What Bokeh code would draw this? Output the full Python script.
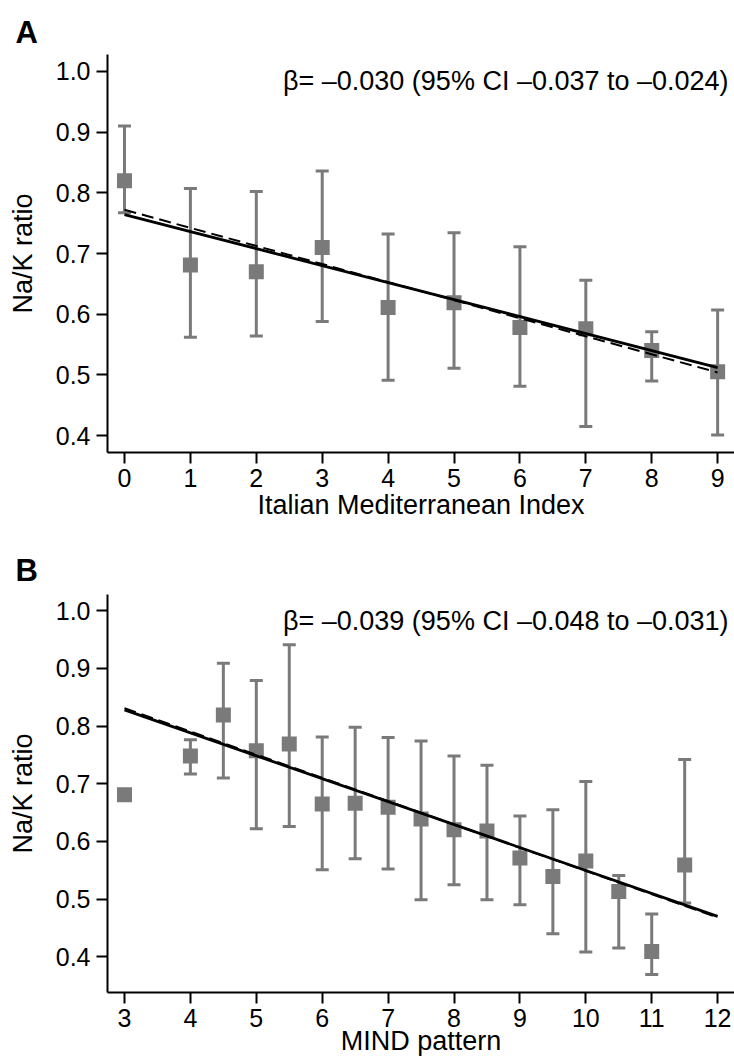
import math
from bokeh.plotting import figure
from bokeh.layouts import column
from bokeh.models import Range1d, FixedTicker, PrintfTickFormatter, Label, ColumnDataSource
from bokeh.embed import file_html
from bokeh.resources import INLINE

nan = math.nan

# ---------------- Panel A data ----------------
a_x = [0, 1, 2, 3, 4, 5, 6, 7, 8, 9]
a_mean = [0.820, 0.681, 0.670, 0.710, 0.611, 0.619, 0.578, 0.576, 0.540, 0.505]
a_lower = [0.767, 0.562, 0.564, 0.588, 0.491, 0.511, 0.481, 0.415, 0.490, 0.401]
a_upper = [0.910, 0.807, 0.802, 0.836, 0.732, 0.734, 0.711, 0.656, 0.571, 0.607]
a_fit_x = [0, 9]
a_fit_solid = [0.764, 0.512]
a_fit_dashed = [0.772, 0.504]
a_xticks = [0, 1, 2, 3, 4, 5, 6, 7, 8, 9]
a_note = "β= –0.030 (95% CI –0.037 to –0.024)"
a_xlabel = "Italian Mediterranean Index"

# ---------------- Panel B data ----------------
b_x = [3, 4, 4.5, 5, 5.5, 6, 6.5, 7, 7.5, 8, 8.5, 9, 9.5, 10, 10.5, 11, 11.5]
b_mean = [0.681, 0.748, 0.819, 0.757, 0.769, 0.665, 0.666, 0.659, 0.639, 0.620,
          0.618, 0.571, 0.539, 0.566, 0.513, 0.409, 0.559]
b_lower = [nan, 0.717, 0.710, 0.622, 0.626, 0.551, 0.570, 0.552, 0.499, 0.525,
           0.499, 0.490, 0.440, 0.408, 0.415, 0.369, 0.493]
b_upper = [nan, 0.776, 0.909, 0.879, 0.941, 0.781, 0.798, 0.780, 0.774, 0.748,
           0.732, 0.644, 0.655, 0.704, 0.541, 0.474, 0.742]
b_fit_x = [3, 12]
b_fit_solid = [0.828, 0.470]
b_fit_dashed = [0.831, 0.468]
b_xticks = [3, 4, 5, 6, 7, 8, 9, 10, 11, 12]
b_note = "β= –0.039 (95% CI –0.048 to –0.031)"
b_xlabel = "MIND pattern"

y_ticks = [0.4, 0.5, 0.6, 0.7, 0.8, 0.9, 1.0]
y_label = "Na/K ratio"

FONT = "Liberation Sans"
GRAY = "#7a7a7a"


def panel(letter, xs, mean, lower, upper, fit_x, fit_solid, fit_dashed, xticks,
          note, xlabel, x_range, y_range, height, top, bottom, xlabel_standoff, title_standoff):
    p = figure(width=734, height=height, x_range=Range1d(*x_range), y_range=Range1d(*y_range),
               output_backend="svg", toolbar_location=None,
               min_border_left=107, min_border_right=0,
               min_border_top=top, min_border_bottom=bottom)
    p.outline_line_color = None
    p.grid.visible = False
    p.background_fill_color = "white"
    p.border_fill_color = "white"

    p.title.text = letter
    p.title.align = "left"
    p.title.offset = -92
    p.title.standoff = title_standoff
    p.title.text_font = FONT
    p.title.text_font_size = "31px"
    p.title.text_font_style = "bold"
    p.title.text_color = "black"

    for ax in (p.xaxis[0], p.yaxis[0]):
        ax.axis_line_width = 2
        ax.axis_line_color = "black"
        ax.major_tick_line_width = 2
        ax.major_tick_line_color = "black"
        ax.major_tick_in = 0
        ax.major_tick_out = 11
        ax.minor_tick_line_color = None
        ax.major_label_text_font = FONT
        ax.major_label_text_font_size = "25px"
        ax.major_label_text_color = "black"
        ax.axis_label_text_font = FONT
        ax.axis_label_text_font_size = "27px"
        ax.axis_label_text_font_style = "normal"
        ax.axis_label_text_color = "black"

    p.xaxis.ticker = FixedTicker(ticks=xticks, minor_ticks=[])
    p.xaxis.major_label_standoff = 5
    p.xaxis.axis_label = xlabel
    p.xaxis.axis_label_standoff = xlabel_standoff

    p.yaxis.ticker = FixedTicker(ticks=y_ticks, minor_ticks=[])
    p.yaxis.formatter = PrintfTickFormatter(format="%.1f")
    p.yaxis.major_label_standoff = 6
    p.yaxis.axis_label = y_label
    p.yaxis.axis_label_standoff = 15

    src = ColumnDataSource(dict(x=xs, m=mean, lo=lower, hi=upper))
    p.segment(x0="x", y0="lo", x1="x", y1="hi", source=src, line_color=GRAY, line_width=3)
    p.scatter(x="x", y="hi", source=src, marker="dash", size=13, line_color=GRAY, line_width=3)
    p.scatter(x="x", y="lo", source=src, marker="dash", size=13, line_color=GRAY, line_width=3)
    p.scatter(x="x", y="m", source=src, marker="square", size=15, fill_color=GRAY, line_color=None)

    p.line(fit_x, fit_dashed, line_color="black", line_width=2, line_dash="12 6")
    p.line(fit_x, fit_solid, line_color="black", line_width=2.8)

    frame_h = height - top - bottom
    p.add_layout(Label(x=x_range[1] - 0.09, y=y_range[1] - 26.0 / frame_h * (y_range[1] - y_range[0]),
                       text=note, text_align="right", text_baseline="alphabetic",
                       text_font=FONT, text_font_size="27px", text_color="black"))
    return p


pA = panel("A", a_x, a_mean, a_lower, a_upper, a_fit_x, a_fit_solid, a_fit_dashed, a_xticks,
           a_note, a_xlabel, (-0.258, 9.256), (0.372, 1.028), 530, 54, 78, 0, 10)
pB = panel("B", b_x, b_mean, b_lower, b_upper, b_fit_x, b_fit_solid, b_fit_dashed, b_xticks,
           b_note, b_xlabel, (2.742, 12.256), (0.338, 1.028), 531, 64, 69, -4, 14)

layout = column(pA, pB, spacing=0)
open("out.html", "w").write(file_html(layout, INLINE))
